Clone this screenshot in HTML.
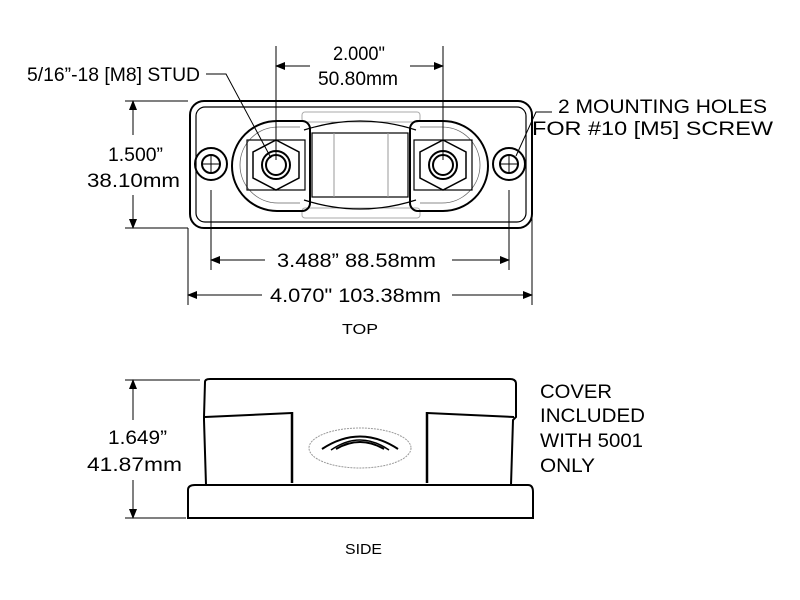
<!DOCTYPE html>
<html><head><style>
html,body{margin:0;padding:0;background:#fff;}
svg{display:block;font-family:"Liberation Sans",Arial,sans-serif;}
</style></head><body>
<svg width="800" height="600" viewBox="0 0 800 600">
<defs>
<marker id="a" markerWidth="10" markerHeight="8" refX="9" refY="4" orient="auto" markerUnits="userSpaceOnUse"><path d="M0,0 L10,4 L0,8 z" fill="#000"/></marker>
</defs>
<g fill="none" stroke="#000" stroke-width="2">
<rect x="190" y="101" width="342" height="127" rx="14"/>
<rect x="196" y="107" width="330" height="115" rx="9" stroke-width="1.2"/>
<circle cx="211" cy="164" r="16"/><circle cx="211" cy="164" r="9"/>
<circle cx="509" cy="164" r="16"/><circle cx="509" cy="164" r="9"/>
<path d="M202,164 H220 M211,155 V173 M500,164 H518 M509,155 V173" stroke-width="1"/>
<rect x="302" y="112" width="118" height="10" rx="3" stroke="#aaa" stroke-width="1"/>
<rect x="302" y="208" width="118" height="10" rx="3" stroke="#aaa" stroke-width="1"/>
<path d="M304,130 Q360,112 416,130" stroke-width="1.2"/>
<path d="M304,200 Q360,218 416,200" stroke-width="1.2"/>
<rect x="312" y="133" width="96" height="64" stroke-width="1.2"/>
<line x1="334" y1="133" x2="334" y2="197" stroke="#999" stroke-width="1"/>
<line x1="388" y1="133" x2="388" y2="197" stroke="#999" stroke-width="1"/>
<path d="M302,121 H277 A45,45 0 0 0 277,211 H302 A8,8 0 0 0 310,203 V129 A8,8 0 0 0 302,121 Z"/>
<path d="M300,127 H278 A38,38 0 0 0 278,203 H300" stroke-width="0.8" stroke="#666"/>
<rect x="247" y="140" width="58" height="50" stroke-width="1.2"/>
<polygon points="276,140 299,152 299,178 276,190 253,178 253,152" stroke-width="1.5"/>
<circle cx="276" cy="165" r="14"/><circle cx="276" cy="165" r="10"/>
<path d="M418,121 H443 A45,45 0 0 1 443,211 H418 A8,8 0 0 1 410,203 V129 A8,8 0 0 1 418,121 Z"/>
<path d="M420,127 H442 A38,38 0 0 1 442,203 H420" stroke-width="0.8" stroke="#666"/>
<rect x="414" y="140" width="58" height="50" stroke-width="1.2"/>
<polygon points="443,140 466,152 466,178 443,190 420,178 420,152" stroke-width="1.5"/>
<circle cx="443" cy="165" r="14"/><circle cx="443" cy="165" r="10"/>
<path d="M205,382 Q205,379 210,379 H510 Q516,379 516,384 V417 L513,420 L511,485 H206 L204,420 L204,417 Z"/>
<line x1="205" y1="417" x2="292" y2="413"/><line x1="427" y1="413" x2="514" y2="417"/>
<line x1="292" y1="412" x2="292" y2="483" stroke-width="2.5"/>
<line x1="427" y1="412" x2="427" y2="483" stroke-width="2.5"/>
<path d="M188,490 Q188,485 195,485 H528 Q533,485 533,492 V518 H188 Z"/>
<ellipse cx="360" cy="448" rx="51" ry="20" stroke="#999" stroke-width="1" stroke-dasharray="2,1"/>
<path d="M322,449 Q360,424 398,449" stroke-width="2"/>
<path d="M331,450 Q360,430 389,450" stroke-width="1.5"/>
<path d="M336,449 Q360,435 384,449" stroke-width="2"/>
</g>
<g stroke="#000" stroke-width="1" fill="none">
<line x1="276" y1="46" x2="276" y2="160"/><line x1="443" y1="46" x2="443" y2="160"/>
<line x1="310" y1="66" x2="276" y2="66" marker-end="url(#a)"/>
<line x1="410" y1="66" x2="443" y2="66" magnetic="" marker-end="url(#a)"/>
<path d="M206,74 H226 L271,158"/>
<line x1="125" y1="101" x2="188" y2="101"/><line x1="125" y1="228" x2="188" y2="228"/>
<line x1="133" y1="135" x2="133" y2="101" marker-end="url(#a)"/>
<line x1="133" y1="195" x2="133" y2="228" marker-end="url(#a)"/>
<line x1="211" y1="190" x2="211" y2="270"/><line x1="509" y1="190" x2="509" y2="270"/>
<line x1="265" y1="260" x2="211" y2="260" marker-end="url(#a)"/>
<line x1="452" y1="260" x2="509" y2="260" marker-end="url(#a)"/>
<line x1="188" y1="228" x2="188" y2="305"/><line x1="532" y1="200" x2="532" y2="305"/>
<line x1="262" y1="295" x2="188" y2="295" marker-end="url(#a)"/>
<line x1="452" y1="295" x2="532" y2="295" marker-end="url(#a)"/>
<path d="M552,112 L536,112 L516,156"/>
<line x1="125" y1="380" x2="200" y2="380"/><line x1="125" y1="518" x2="186" y2="518"/>
<line x1="133" y1="420" x2="133" y2="380" marker-end="url(#a)"/>
<line x1="133" y1="480" x2="133" y2="518" marker-end="url(#a)"/>
</g>
<g font-size="19" fill="#000" lengthAdjust="spacingAndGlyphs">
<text x="27" y="81" textLength="173" lengthAdjust="spacingAndGlyphs">5/16”-18 [M8] STUD</text>
<text x="333" y="60" textLength="52" lengthAdjust="spacingAndGlyphs">2.000"</text>
<text x="318" y="85" textLength="80" lengthAdjust="spacingAndGlyphs">50.80mm</text>
<text x="108" y="161" textLength="55" lengthAdjust="spacingAndGlyphs">1.500”</text>
<text x="87" y="187" textLength="93" lengthAdjust="spacingAndGlyphs">38.10mm</text>
<text x="558" y="113" textLength="209" lengthAdjust="spacingAndGlyphs">2 MOUNTING HOLES</text>
<text x="532" y="135" textLength="241" lengthAdjust="spacingAndGlyphs">FOR #10 [M5] SCREW</text>
<text x="277" y="267" textLength="159" lengthAdjust="spacingAndGlyphs">3.488”  88.58mm</text>
<text x="270" y="302" textLength="171" lengthAdjust="spacingAndGlyphs">4.070" 103.38mm</text>
<text x="342" y="334" font-size="15" textLength="36" lengthAdjust="spacingAndGlyphs">TOP</text>
<text x="108" y="444" textLength="59" lengthAdjust="spacingAndGlyphs">1.649”</text>
<text x="87" y="471" textLength="95" lengthAdjust="spacingAndGlyphs">41.87mm</text>
<text x="540" y="398" textLength="72" lengthAdjust="spacingAndGlyphs">COVER</text>
<text x="540" y="422" textLength="105" lengthAdjust="spacingAndGlyphs">INCLUDED</text>
<text x="540" y="447" textLength="103" lengthAdjust="spacingAndGlyphs">WITH 5001</text>
<text x="540" y="472" textLength="55" lengthAdjust="spacingAndGlyphs">ONLY</text>
<text x="345" y="554" font-size="15" textLength="37" lengthAdjust="spacingAndGlyphs">SIDE</text>
</g>
</svg>
</body></html>
